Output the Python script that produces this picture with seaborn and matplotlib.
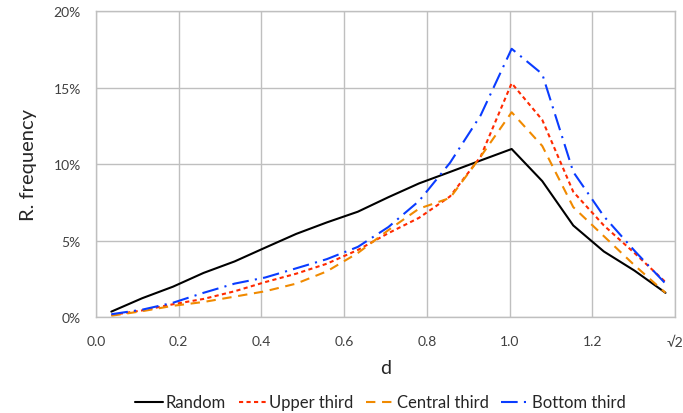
import matplotlib
matplotlib.use("Agg")
import matplotlib.pyplot as plt
import matplotlib.ticker as mticker
import seaborn as sns
import pandas as pd

# bin centres of d (0..sqrt(2) split in 19 bins)
d = [0.037, 0.112, 0.186, 0.260, 0.335, 0.409, 0.484, 0.558, 0.633, 0.707,
     0.781, 0.856, 0.930, 1.005, 1.079, 1.154, 1.228, 1.302, 1.377]

# relative frequency in %
random_ = [0.37, 1.25, 2.0, 2.9, 3.65, 4.55, 5.45, 6.2, 6.9, 7.85,
           8.75, 9.5, 10.25, 11.0, 8.9, 6.0, 4.3, 3.05, 1.6]
upper = [0.15, 0.45, 0.85, 1.2, 1.7, 2.3, 2.85, 3.5, 4.4, 5.5,
         6.5, 7.9, 10.5, 15.3, 12.9, 8.2, 6.0, 4.2, 2.3]
central = [0.1, 0.4, 0.75, 1.0, 1.35, 1.7, 2.2, 3.0, 4.2, 5.7,
           7.1, 7.8, 10.5, 13.4, 11.2, 7.2, 5.3, 3.4, 1.6]
bottom = [0.2, 0.5, 0.95, 1.6, 2.2, 2.6, 3.2, 3.8, 4.6, 5.9,
          7.6, 10.1, 13.2, 17.55, 15.9, 9.5, 6.6, 4.35, 2.2]

series = ["Random", "Upper third", "Central third", "Bottom third"]
colors = ["#000000", "#ff2a00", "#f08a00", "#0a3cff"]
xticks = [0.0, 0.2, 0.4, 0.6, 0.8, 1.0, 1.2, 1.4]
xticklabels = ["0.0", "0.2", "0.4", "0.6", "0.8", "1.0", "1.2", "\u221a2"]
yticks = [0, 5, 10, 15, 20]

df = pd.concat([
    pd.DataFrame({"d": d, "freq": vals, "group": name})
    for name, vals in zip(series, [random_, upper, central, bottom])
])

sns.set_style("white")
plt.rcParams["font.family"] = ["Lato", "DejaVu Sans"]

fig = plt.figure(figsize=(6.83, 4.14), dpi=100)
ax = fig.add_axes([0.1406, 0.2312, 0.8477, 0.7391])

dashes = {"Random": "", "Upper third": (2, 1.6),
          "Central third": (4.5, 3.2), "Bottom third": (8, 3, 1, 3)}
sns.lineplot(data=df, x="d", y="freq", hue="group", style="group",
             hue_order=series, style_order=series,
             palette=dict(zip(series, colors)), dashes=dashes,
             linewidth=1.5, ax=ax)

ax.set_xlim(0, 1.4)
ax.set_ylim(0, 20)
ax.set_xticks(xticks)
ax.set_xticklabels(xticklabels)
ax.set_yticks(yticks)
ax.yaxis.set_major_formatter(mticker.PercentFormatter(xmax=100, decimals=0))
ax.tick_params(length=0, labelsize=10, colors="#404040")
ax.tick_params(axis="x", pad=13)
ax.tick_params(axis="y", pad=11)
ax.grid(True, color="#bfbfbf", linewidth=1)
for s in ax.spines.values():
    s.set_color("#bfbfbf")
    s.set_linewidth(1)

ax.set_xlabel("d", fontsize=14, labelpad=8)
ax.set_ylabel("R. frequency", fontsize=14.5, labelpad=12)

handles, labels = ax.get_legend_handles_labels()
ax.get_legend().remove()
fig.legend(handles, labels, loc="lower center", bbox_to_anchor=(0.557, -0.03),
           ncol=4, frameon=False, fontsize=12, handlelength=1.7,
           handletextpad=0.15, columnspacing=0.75)

fig.savefig("out.png", dpi=100)
